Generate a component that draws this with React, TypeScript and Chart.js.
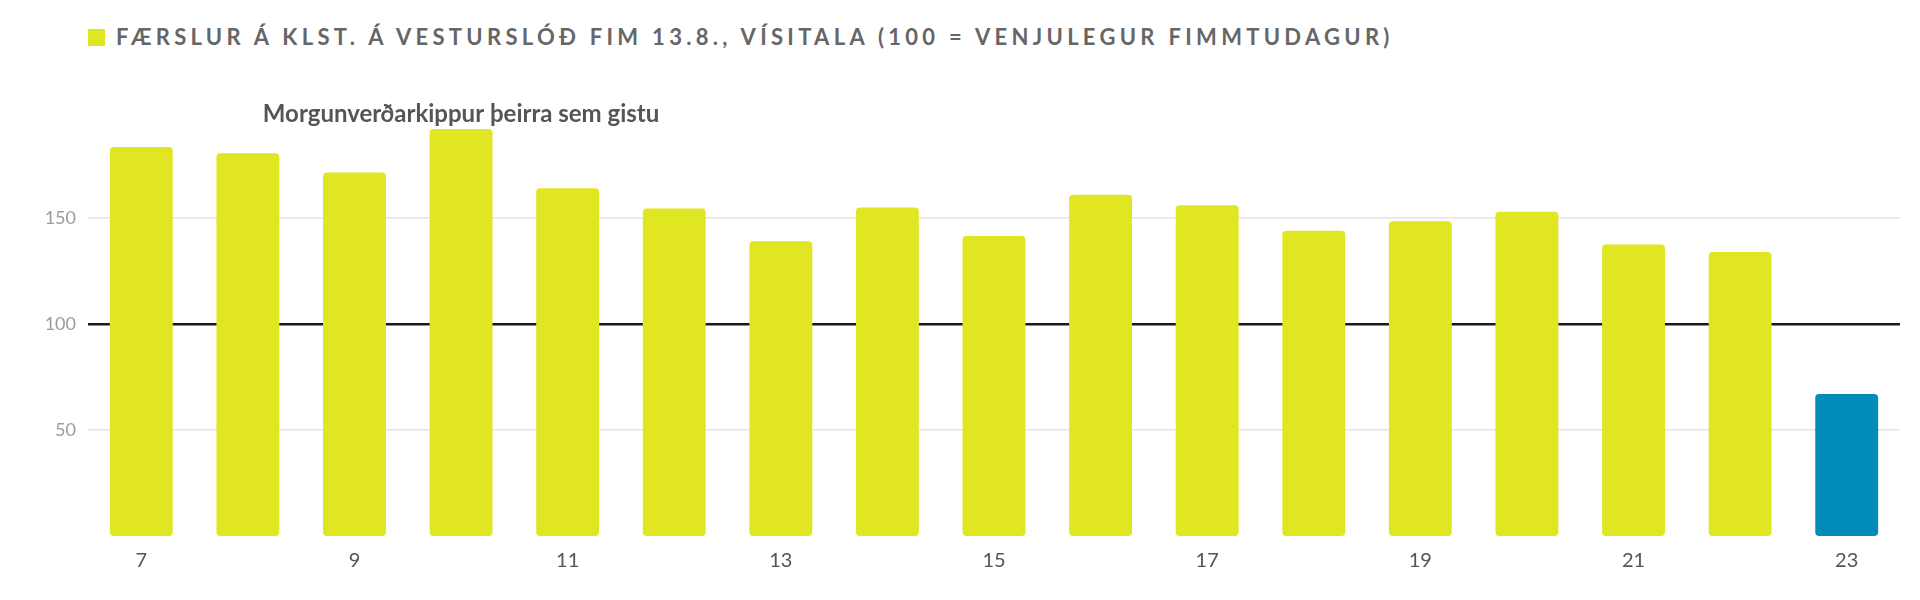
import React, { useEffect, useRef } from 'react';
import Chart from 'chart.js/auto';

// --- Data ---
const hours = ['7', '8', '9', '10', '11', '12', '13', '14', '15', '16', '17', '18', '19', '20', '21', '22', '23'];
const indexValues = [183.5, 180.5, 171.5, 192, 164, 154.5, 139, 155, 141.5, 161, 156, 144, 148.5, 153, 137.5, 134, 67];
const barColors = [
  '#e1e622', '#e1e622', '#e1e622', '#e1e622', '#e1e622', '#e1e622', '#e1e622', '#e1e622', '#e1e622',
  '#e1e622', '#e1e622', '#e1e622', '#e1e622', '#e1e622', '#e1e622', '#e1e622', '#008bba',
];
const yTickValues = [50, 100, 150];
const seriesLabel = 'FÆRSLUR Á KLST. Á VESTURSLÓÐ FIM 13.8., VÍSITALA (100 = VENJULEGUR FIMMTUDAGUR)';
const noteText = 'Morgunverðarkippur þeirra sem gistu';
const noteIndex = 3; // over hour 10

// draws the note above the peak bar
const notePlugin = {
  id: 'barNote',
  afterDatasetsDraw(chart) {
    const bar = chart.getDatasetMeta(0).data[noteIndex];
    if (!bar) return;
    const { ctx } = chart;
    ctx.save();
    ctx.font = 'bold 24px Lato, sans-serif';
    ctx.fillStyle = '#555555';
    ctx.textAlign = 'center';
    ctx.textBaseline = 'bottom';
    ctx.fillText(noteText, bar.x, bar.y - 3);
    ctx.restore();
  },
};

export default function App() {
  const canvasRef = useRef(null);
  const chartRef = useRef(null);

  useEffect(() => {
    document.body.style.margin = '0';
    if (!canvasRef.current) return;
    if (chartRef.current) chartRef.current.destroy();

    chartRef.current = new Chart(canvasRef.current, {
      type: 'bar',
      data: {
        labels: hours,
        datasets: [{
          label: seriesLabel,
          data: indexValues,
          backgroundColor: barColors,
          borderRadius: 4,
          borderSkipped: false,
          categoryPercentage: 1,
          barPercentage: 0.59,
        }],
      },
      options: {
        responsive: false,
        animation: false,
        layout: { padding: { left: 0, right: 20, top: 112, bottom: 0 } },
        plugins: {
          legend: { display: false },
          tooltip: { enabled: false },
        },
        scales: {
          x: {
            grid: { display: false },
            border: { display: false },
            ticks: {
              autoSkip: false,
              maxRotation: 0,
              padding: 5,
              color: '#555555',
              font: { family: 'Lato, sans-serif', size: 20 },
              callback: (v, i) => (i % 2 === 0 ? hours[i] : ''),
            },
            afterFit: (s) => { s.height = 64; },
          },
          y: {
            min: 0,
            max: 200,
            border: { display: false },
            grid: {
              drawTicks: false,
              color: (c) => (c.tick && c.tick.value === 100 ? '#1a1a1a' : '#e4e4e4'),
              lineWidth: (c) => (c.tick && c.tick.value === 100 ? 2.5 : 1.5),
            },
            ticks: {
              padding: 12,
              color: '#979da2',
              font: { family: 'Lato, sans-serif', size: 18 },
            },
            afterBuildTicks: (s) => { s.ticks = yTickValues.map((v) => ({ value: v })); },
            afterFit: (s) => { s.width = 88; },
          },
        },
      },
      plugins: [notePlugin],
    });

    return () => {
      if (chartRef.current) chartRef.current.destroy();
      chartRef.current = null;
    };
  }, []);

  return (
    <div style={{ position: 'relative', width: 1920, height: 600, background: '#fff', fontFamily: 'Lato, sans-serif' }}>
      <div style={{ position: 'absolute', left: 88, top: 24, display: 'flex', alignItems: 'center' }}>
        <span style={{ display: 'inline-block', width: 17, height: 17, background: '#e1e622', marginRight: 11 }} />
        <span style={{ fontSize: 22, fontWeight: 700, letterSpacing: 4.3, color: '#666666', lineHeight: '26px' }}>
          {seriesLabel}
        </span>
      </div>
      <canvas ref={canvasRef} width={1920} height={600} style={{ position: 'absolute', left: 0, top: 0 }} />
    </div>
  );
}
